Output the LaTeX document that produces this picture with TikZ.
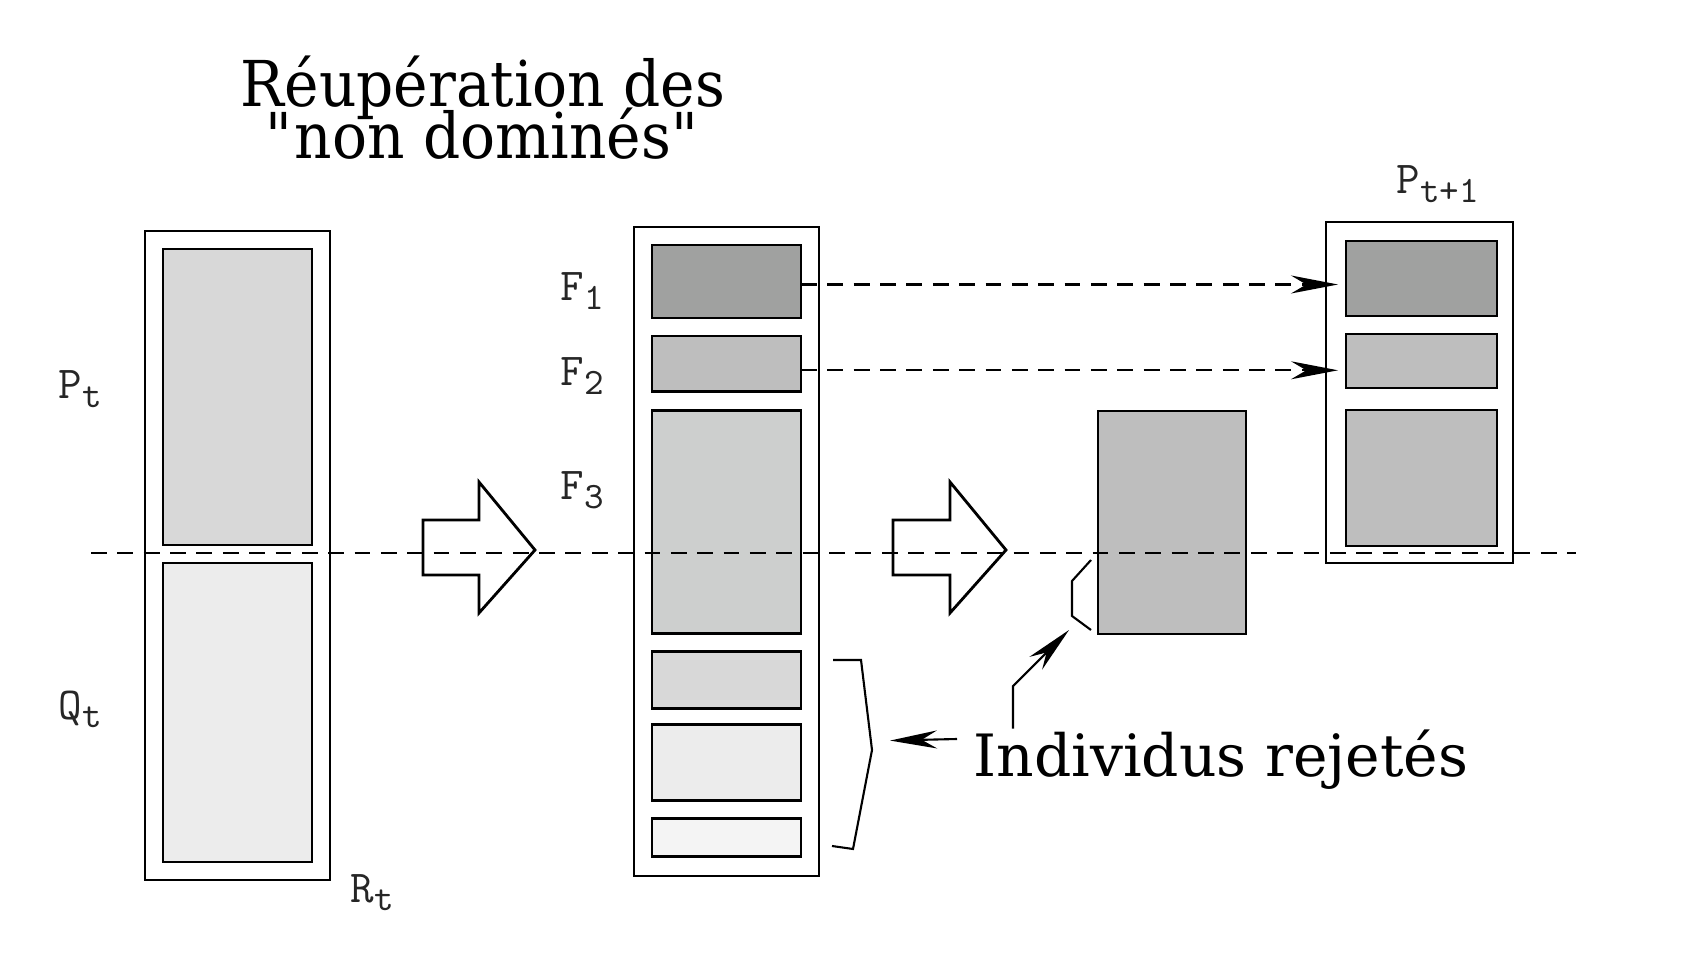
\documentclass[tikz,border=0pt]{standalone}
\usepackage{fontspec}
\setmainfont{DejaVu Serif}
\newfontfamily\titlefont{DejaVu Serif}[FakeStretch=0.92]
\usetikzlibrary{positioning,arrows.meta}
\definecolor{fone}{HTML}{A0A1A0}
\definecolor{ftwo}{HTML}{BEBEBE}
\definecolor{fthree}{HTML}{CDCFCE}
\definecolor{pbox}{HTML}{D8D8D8}
\definecolor{qbox}{HTML}{ECECEC}
\definecolor{lastbox}{HTML}{F4F4F4}
\newcommand\setlbl[2]{{\ttfamily #1\raisebox{-0.45ex}{\fontsize{10.6}{12}\selectfont #2}}}
\tikzset{outer/.style={draw,line width=0.6pt,inner sep=0pt,outer sep=0pt,anchor=north west,minimum width=18.5mm}}
\tikzset{front/.style={draw,line width=0.8pt,inner sep=0pt,outer sep=0pt,anchor=north west,minimum width=14.9mm}}
\tikzset{setname/.style={font=\fontsize{13}{15}\selectfont,text=black!85,inner sep=0pt,anchor=base west}}
\tikzset{cut/.style={draw,dash pattern=on 4.5pt off 3pt,line width=0.6pt}}
\tikzstyle{arrow}=[draw,line width=0.6pt,-{Stealth[length=4.7mm,width=1.8mm]}]
\tikzstyle{bigarrow}=[draw,line width=0.8pt,fill=white,line join=miter]

\begin{document}
\begin{tikzpicture}[x=0.1mm,y=-0.1mm]
        \useasboundingbox (0,0) rectangle (1708,967);

        % R_t = P_t + Q_t
        \node[outer,minimum height=64.9mm] (R) at (145,231) {};
        \node[front,fill=pbox,minimum height=29.6mm] (P) at (163,249) {};
        \node[front,fill=qbox,minimum height=29.9mm,below=1.8mm of P] (Q) {};
        \node[setname] (lP) at (58,399) {\setlbl{P}{t}};
        \node[setname] (lQ) at (58,719) {\setlbl{Q}{t}};
        \node[setname] (lR) at (350,902) {\setlbl{R}{t}};

        \node[font=\titlefont\fontsize{18}{18.9}\selectfont,align=center,anchor=base] (title) at (483,159) {Réupération des\\[-4.1pt]\textquotedbl non dominés\textquotedbl};

        % fronts
        \node[outer,minimum height=64.9mm] (S) at (634,227) {};
        \node[front,fill=fone,minimum height=7.3mm] (F1) at (652,245) {};
        \node[front,fill=ftwo,minimum height=5.56mm,below=1.8mm of F1] (F2) {};
        \node[front,fill=fthree,minimum height=22.3mm,below=1.85mm of F2] (F3) {};
        \node[front,fill=pbox,minimum height=5.65mm,below=1.85mm of F3] (F4) {};
        \node[front,fill=qbox,minimum height=7.6mm,below=1.65mm of F4] (F5) {};
        \node[front,fill=lastbox,minimum height=3.8mm,below=1.75mm of F5] (F6) {};
        \node[setname] (lF1) at (560,301) {\setlbl{F}{1}};
        \node[setname] (lF2) at (560,386) {\setlbl{F}{2}};
        \node[setname] (lF3) at (560,500) {\setlbl{F}{3}};

        % tri par distance
        \node[front,fill=ftwo,minimum width=14.8mm,minimum height=22.3mm] (cut3) at (1098,411) {};

        % P_{t+1}
        \node[outer,minimum width=18.7mm,minimum height=34.1mm] (N) at (1326,222) {};
        \node[front,fill=fone,minimum width=15.1mm,minimum height=7.5mm] (N1) at (1346,241) {};
        \node[front,fill=ftwo,minimum width=15.1mm,minimum height=5.4mm,below=1.8mm of N1] (N2) {};
        \node[front,fill=ftwo,minimum width=15.1mm,minimum height=13.6mm,below=2.2mm of N2] (N3) {};
        \node[setname] (lN) at (1396,194) {\setlbl{P}{t+1}};

        % big arrows
        \path[bigarrow] (423,520) -- (479,520) -- (479,482) -- (535,550) -- (479,613) -- (479,575) -- (423,575) -- cycle;
        \path[bigarrow] (893,520) -- (950,520) -- (950,482) -- (1006,550) -- (950,613) -- (950,575) -- (893,575) -- cycle;

        % limit of the population
        \coordinate (cutL) at (91,553);
        \coordinate (cutR) at (1576,553);
        \path[cut] (cutL) -- (cutR);

        \path[arrow,dash pattern=on 4.5pt off 3pt,shorten >=0.8mm] ([yshift=-0.3mm]F1.east) -- ([yshift=-0.3mm]F1.east -| N1.west);
        \path[arrow,dash pattern=on 4.5pt off 3pt,shorten >=0.8mm] ([yshift=-0.65mm]F2.east) -- ([yshift=-0.65mm]F2.east -| N2.west);

        % rejected
        \node[font=\fontsize{16.6}{20}\selectfont,inner sep=0pt,anchor=base west] (rej) at (973,776) {Individus rejetés};
        \draw[line width=0.6pt] (833,660) -- (861,660) -- (872,750) -- (853,849) -- (832,846);
        \draw[line width=0.6pt] (1091,560) -- (1072,581) -- (1072,616) -- (1091,630);
        \coordinate (brtip) at (872,741);
        \coordinate (tail) at (957,739);
        \coordinate (kink) at (1013,686);
        \coordinate (smalltip) at (1069,630);
        \path[arrow,shorten >=1.8mm] (tail) -- (brtip);
        \path[arrow] (rej.north -| kink) -- (kink) -- (smalltip);
\end{tikzpicture}
\end{document}
